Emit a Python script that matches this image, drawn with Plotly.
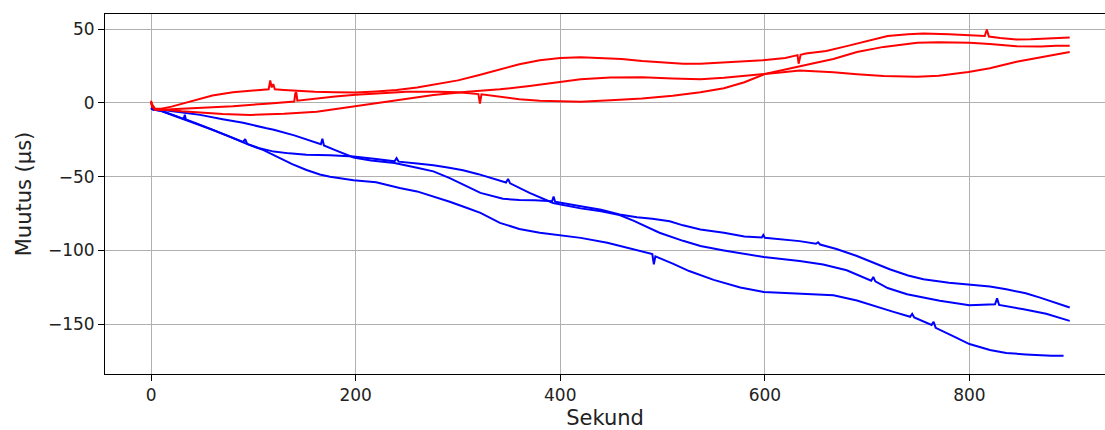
import plotly.graph_objects as go

# ---------------- data ----------------
# Red series
red_a_x = [0, 1, 4, 10, 20, 30, 45, 60, 80, 100, 113, 115, 116.5, 118, 119.5, 121, 130, 145, 160, 180, 200,
           220, 240, 260, 280, 300, 320, 340, 360, 380, 400, 420, 440, 460, 480, 500, 520, 537, 560, 580, 598,
           620, 632, 633, 635, 640, 660, 680, 700, 720, 740, 755, 780, 797, 815, 817, 819, 830, 846, 860, 880, 898]
red_a_y = [1.5, -1, -4, -4, -2.5, -0.5, 2.5, 5, 7.2, 8.3, 9.2, 9.3, 15.2, 10.5, 12.8, 9.2, 8.8, 8.1, 7.6, 7.2, 7.0,
           7.8, 8.8, 10.5, 12.8, 15.3, 18.8, 22.5, 26.2, 29.0, 30.5, 31.0, 30.3, 29.8, 28.5, 27.6, 26.6, 26.6, 27.4, 28.3, 29.0,
           30.5, 32.4, 26.6, 32.6, 33.5, 35.2, 38.5, 42.0, 45.4, 46.6, 47.0, 46.5, 45.8, 45.4, 49.8, 45.0, 44.0, 43.0, 43.2, 43.6, 44.4]

red_b_x = [0, 1, 4, 10, 20, 30, 48, 80, 113, 130, 140, 141, 142, 143, 160, 180, 200, 220, 250, 280, 300, 320,
           321.5, 323, 341, 360, 380, 400, 420, 449, 480, 510, 537, 560, 580, 600, 620, 634, 650, 667, 690, 716,
           732, 749, 770, 800, 820, 846, 870, 885, 898]
red_b_y = [1, -2, -4.5, -4.8, -4.3, -4.0, -3.6, -2.2, -0.5, 0.5, 1.0, 6.5, 7.2, 1.5, 3.0, 4.3, 5.6, 6.5, 7.5, 7.6, 7.2, 6.0,
           -0.5, 5.8, 4.3, 2.5, 1.5, 0.9, 0.8, 1.8, 3.0, 4.8, 7.2, 10.0, 14.0, 19.6, 22.5, 24.5, 27.2, 29.8, 34.5, 38.0,
           39.3, 40.8, 41.2, 40.8, 40.0, 38.5, 38.3, 38.8, 38.7]

red_c_x = [0, 1, 4, 10, 15, 30, 48, 70, 97, 130, 162, 200, 220, 243, 276, 309, 341, 370, 400, 420, 449, 480,
           510, 537, 560, 580, 600, 620, 634, 650, 667, 690, 716, 749, 770, 799, 820, 846, 870, 898]
red_c_y = [0.5, -2.5, -4.5, -4.5, -4.7, -5.7, -6.5, -7.5, -8.1, -7.4, -5.9, -2.2, -0.5, 2.0, 5.4, 7.6, 9.2, 11.5, 14.4, 16.0, 17.3, 17.4,
           16.6, 16.0, 17.0, 18.5, 19.8, 21.0, 22.0, 21.5, 20.8, 19.5, 18.3, 17.8, 18.5, 21.0, 23.5, 27.9, 31.0, 34.5]

# Blue series
blue_x_x = [0, 2, 10, 20, 32, 33, 34, 45, 60, 75, 90, 92, 94, 105, 120, 135, 152, 175, 198, 220, 238, 240, 242,
            260, 276, 290, 305, 320, 335, 347, 349, 351, 370, 393, 420, 440, 458, 472, 497, 520, 537, 560, 599,
            634, 657, 680, 704, 706, 708, 720, 739, 755, 771, 800, 825, 827, 829, 853, 875, 898]
blue_x_y = [-3.5, -4.5, -5.3, -7.8, -10.8, -8.0, -11.2, -14.0, -18.0, -22.0, -26.5, -24.5, -27.8, -30.5, -33.0, -34.2, -35.1, -35.5, -36.3, -38.0, -39.6, -37.5, -39.8,
            -41.0, -42.2, -43.8, -45.6, -48.3, -51.3, -54.0, -51.5, -54.5, -61.0, -67.8, -71.5, -73.5, -76.0, -80.0, -88.0, -93.5, -97.0, -100.0, -104.5,
            -107.2, -109.5, -113.5, -120.5, -118.0, -121.0, -125.5, -129.7, -132.0, -134.2, -137.2, -136.5, -132.5, -137.0, -139.9, -143.0, -147.8]

blue_y_x = [0, 2, 10, 20, 35, 48, 70, 90, 113, 120, 140, 160, 166, 167.5, 169, 180, 198, 215, 238, 260, 276, 292,
            309, 322, 344, 360, 375, 392, 393.5, 395, 420, 440, 458, 475, 490, 507, 520, 537, 560, 580, 597, 598.5,
            600, 634, 650, 652, 654, 670, 690, 705, 722, 740, 755, 780, 800, 820, 836, 855, 869, 885, 898]
blue_y_y = [-3.5, -4.0, -4.6, -5.5, -7.0, -8.1, -11.0, -13.5, -17.2, -18.2, -22.0, -26.5, -28.0, -24.3, -28.8, -32.0, -37.0, -39.0, -40.8, -44.0, -46.4, -51.0,
            -56.5, -61.0, -65.0, -65.8, -66.0, -66.7, -63.5, -67.0, -70.0, -72.5, -75.7, -77.5, -78.5, -80.2, -83.0, -85.8, -88.0, -90.5, -91.2, -89.5,
            -91.4, -93.7, -95.5, -94.5, -96.0, -99.0, -103.8, -108.0, -112.8, -117.0, -119.6, -122.0, -123.0, -124.5, -126.4, -129.0, -132.0, -135.5, -138.7]

blue_z_x = [0, 2, 10, 20, 33, 45, 60, 75, 93.5, 110, 122, 138, 152, 165, 175, 198, 220, 243, 260, 276, 292, 309, 322, 341,
            360, 380, 400, 420, 446, 470, 490, 491.5, 493, 510, 526, 550, 576, 599, 620, 634, 650, 667, 690, 706,
            725, 742, 744, 746, 763, 765, 767, 785, 800, 820, 836, 855, 869, 880, 892]
blue_z_y = [-3.5, -4.5, -5.5, -8.0, -11.3, -14.2, -18.2, -22.3, -27.8, -32.0, -36.0, -41.5, -45.5, -48.5, -50.0, -52.5, -53.8, -57.7, -60.0, -63.3, -67.0, -71.2, -74.5, -81.3,
            -85.5, -88.0, -89.9, -91.5, -94.8, -99.0, -102.5, -109.5, -104.0, -109.0, -114.0, -120.0, -125.2, -128.2, -128.8, -129.0, -129.5, -130.4, -134.0, -137.6,
            -141.5, -145.0, -143.0, -145.5, -150.5, -148.5, -152.5, -158.5, -163.5, -167.5, -169.6, -170.5, -171.0, -171.5, -171.4]

x_tick_vals = [0, 200, 400, 600, 800]
x_tick_text = ["0", "200", "400", "600", "800"]
y_tick_vals = [-150, -100, -50, 0, 50]
y_tick_text = ["\u2212150", "\u2212100", "\u221250", "0", "50"]

x_title = "Sekund"
y_title = "Muutus (µs)"

# ---------------- figure ----------------
fig = go.Figure()
series = [
    (blue_x_x, blue_x_y, "blue"),
    (blue_y_x, blue_y_y, "blue"),
    (blue_z_x, blue_z_y, "blue"),
    (red_a_x, red_a_y, "red"),
    (red_b_x, red_b_y, "red"),
    (red_c_x, red_c_y, "red"),
]
for xs, ys, col in series:
    fig.add_trace(go.Scatter(x=xs, y=ys, mode="lines",
                             line=dict(color=col, width=2), showlegend=False,
                             hoverinfo="skip"))

font_family = "DejaVu Sans"
fig.update_layout(
    width=1105, height=430,
    margin=dict(l=105, r=0, t=14, b=56, pad=0),
    paper_bgcolor="white", plot_bgcolor="white",
    font=dict(family=font_family, color="black", size=17),
    showlegend=False,
)
fig.update_xaxes(
    range=[-45, 932.5], tickvals=x_tick_vals, ticktext=x_tick_text,
    showgrid=True, gridcolor="#b0b0b0", gridwidth=1, zeroline=False,
    showline=True, linecolor="black", linewidth=1, mirror=True,
    ticks="outside", ticklen=6, tickwidth=1, tickcolor="black",
    tickfont=dict(family=font_family, size=17, color="#222"),
    title=dict(text=x_title, font=dict(family=font_family, size=21, color="#222"), standoff=11),
)
fig.update_yaxes(
    range=[-183.8, 60.3], tickvals=y_tick_vals, ticktext=y_tick_text,
    showgrid=True, gridcolor="#b0b0b0", gridwidth=1, zeroline=False,
    showline=True, linecolor="black", linewidth=1, mirror=False,
    ticks="outside", ticklen=6, tickwidth=1, tickcolor="black",
    tickfont=dict(family=font_family, size=17, color="#222"),
    title=dict(text=y_title, font=dict(family=font_family, size=21, color="#222"), standoff=10),
)

fig.write_html("out.html")
